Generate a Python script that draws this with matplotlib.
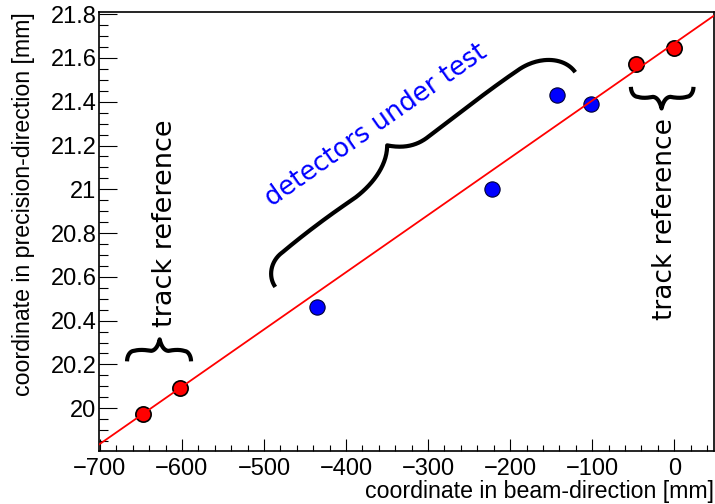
import numpy as np
import matplotlib
matplotlib.use("Agg")
import matplotlib.pyplot as plt
from matplotlib.ticker import MultipleLocator, FuncFormatter

# reference detectors (red) and detectors under test (blue)
ref_x = [-648, -602, -46, 0]
ref_y = [19.973, 20.091, 21.571, 21.644]
dut_x = [-435, -222, -143, -101]
dut_y = [20.461, 21.001, 21.431, 21.391]

# straight line through the reference points
m, b = np.polyfit(ref_x, ref_y, 1)

fig = plt.figure(figsize=(7.15, 5.04), dpi=100)
ax = fig.add_axes([0.139, 0.1058, 0.8596, 0.8704])
xmin, xmax = -700.6, 48.5
ax.set_xlim(xmin, xmax)
ax.set_ylim(19.806, 21.81)

lx = np.array([xmin, xmax])
ax.plot(dut_x, dut_y, 'o', ms=11, mfc='blue', mec='#000033', mew=0.8, zorder=3)
ax.plot(ref_x, ref_y, 'o', ms=11, mfc='red', mec='black', mew=1.2, zorder=3)
ax.plot(lx, b + m * lx, color='red', lw=1.3, zorder=4)

hfont = 'Liberation Sans'
ax.xaxis.set_major_locator(MultipleLocator(100))
ax.xaxis.set_minor_locator(MultipleLocator(20))
ax.yaxis.set_major_locator(MultipleLocator(0.2))
ax.yaxis.set_minor_locator(MultipleLocator(0.05))
fmt = FuncFormatter(lambda v, p: ('%g' % round(v, 3)).replace('-', '\u2212'))
ax.xaxis.set_major_formatter(fmt)
ax.yaxis.set_major_formatter(fmt)
ax.tick_params(axis='x', which='major', direction='in', length=8.6, width=0.8, pad=5)
ax.tick_params(axis='x', which='minor', direction='in', length=4.3, width=0.8)
ax.tick_params(axis='y', which='major', direction='in', length=12.8, width=0.8, pad=2)
ax.tick_params(axis='y', which='minor', direction='in', length=6.4, width=0.8)
for lab in ax.get_xticklabels() + ax.get_yticklabels():
    lab.set_fontfamily(hfont)
    lab.set_fontsize(17)
for s in ax.spines.values():
    s.set_linewidth(1.2)

ax.set_xlabel('coordinate in beam-direction [mm]', fontfamily=hfont, fontsize=16.7,
              loc='right', labelpad=0)
ax.set_ylabel('coordinate in precision-direction [mm]', fontfamily=hfont, fontsize=16.7,
              loc='top')
ax.yaxis.set_label_coords(-0.104, 1.0)

ax.text(-612, 20.845, 'track reference', rotation=90, rotation_mode='anchor',
        ha='center', va='baseline', fontsize=19.5, family='DejaVu Sans')
ax.text(-2.8, 20.865, 'track reference', rotation=90, rotation_mode='anchor',
        ha='center', va='baseline', fontsize=19, family='DejaVu Sans')
ax.text(-490, 20.919, 'detectors under test', rotation=35, rotation_mode='anchor',
        ha='left', va='baseline', fontsize=18.5, family='DejaVu Sans', color='blue')


def bez(p0, p1, p2, p3, n=50):
    p0, p1, p2, p3 = (np.asarray(p, float) for p in (p0, p1, p2, p3))
    t = np.linspace(0, 1, n)[:, None]
    return ((1 - t) ** 3 * p0 + 3 * (1 - t) ** 2 * t * p1
            + 3 * (1 - t) * t ** 2 * p2 + t ** 3 * p3)


def half_brace(tu, h, hk, r, hb, w, c1=0.6, c2u=0.2, c2v=0.3):
    # end (0,0) -> hook -> body -> cusp (tu,h), in pixels
    hook = bez((0, 0), (0, 0.55 * hk), (0.45 * r, hk), (r, hk))
    body = bez((r, hk), (r + 0.3 * (tu - w - r), hk + 0.3 * (hb - hk) + 1.5),
               (r + 0.7 * (tu - w - r), hb + 1.0), (tu - w, hb), n=30)
    dh = h - hb
    tip = bez((tu - w, hb), (tu - c1 * w, hb), (tu - c2u * w, hb + c2v * dh), (tu, h))
    return np.vstack([hook, body, tip])


def brace(p0, p1, tf, h, left, right, side=1):
    # curly brace from p0 to p1 (data), tip at fraction tf of the length
    P0 = ax.transData.transform(p0)
    P1 = ax.transData.transform(p1)
    d = P1 - P0
    L = np.hypot(*d)
    e = d / L
    n = np.array([-e[1], e[0]]) * side
    tu = tf * L
    a = half_brace(tu, h, *left)
    c = half_brace(L - tu, h, *right)[::-1].copy()
    c[:, 0] = L - c[:, 0]
    uv = np.vstack([a, c])
    pts = P0 + uv[:, :1] * e + uv[:, 1:] * n
    dat = ax.transData.inverted().transform(pts)
    ax.plot(dat[:, 0], dat[:, 1], color='black', lw=3.0, solid_capstyle='butt',
            solid_joinstyle='round', clip_on=False, zorder=5)


brace((-666.9, 20.214), (-588.9, 20.214), 0.51, 22,
      (10.5, 7, 10.5, 9), (10.5, 7, 10.5, 9), side=1)
brace((-52.8, 21.468), (23.5, 21.468), 0.49, 21.6,
      (10, 7, 10, 9), (10, 7, 10, 9), side=-1)
brace((-486.2, 20.554), (-120.6, 21.535), 0.47, 50,
      (24, 26, 26, 60, 0.6, 0.2, 0.3), (35, 46, 33, 36, 0.7, 0.35, 0.2), side=1)

fig.savefig('out.png', dpi=100)
